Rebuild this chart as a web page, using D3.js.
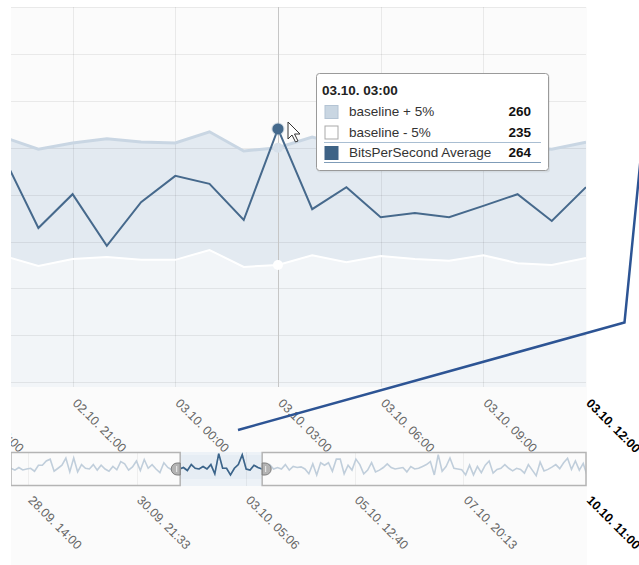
<!DOCTYPE html>
<html>
<head>
<meta charset="utf-8">
<script src="https://cdn.jsdelivr.net/npm/d3@7"></script>
<style>
  body { margin: 0; background: #fff; }
  svg { display: block; font-family: "Liberation Sans", Arial, sans-serif; }
</style>
</head>
<body>
<svg id="chart" width="639" height="565"></svg>
<script>
// main chart: hourly values
var hours = ["02.10.2013 19:00","02.10.2013 20:00","02.10.2013 21:00","02.10.2013 22:00","02.10.2013 23:00",
  "03.10.2013 00:00","03.10.2013 01:00","03.10.2013 02:00","03.10.2013 03:00","03.10.2013 04:00",
  "03.10.2013 05:00","03.10.2013 06:00","03.10.2013 07:00","03.10.2013 08:00","03.10.2013 09:00",
  "03.10.2013 10:00","03.10.2013 11:00","03.10.2013 12:00"];
var avgBps   = [257.8,242.9,250.1,239.1,248.4,254.0,252.3,244.6,264.0,246.9,251.6,245.2,246.1,245.2,247.6,250.1,244.4,251.6];
var basePlus = [262.2,259.7,261.0,261.9,261.2,261.0,263.4,259.3,260.0,262.3,260.4,261.7,261.0,260.6,261.9,260.2,259.7,261.2];
var baseMinus= [236.9,234.8,236.3,236.7,236.1,236.1,238.2,234.6,235.0,237.1,235.6,236.9,236.3,235.9,237.1,235.4,235.0,236.5];
var mainTicks = ["02.10.2013 18:00","02.10.2013 21:00","03.10.2013 00:00","03.10.2013 03:00","03.10.2013 06:00","03.10.2013 09:00","03.10.2013 12:00"];
var yTicks = [210,220,230,240,250,260,270,280,290];
var hoverTime = "03.10.2013 03:00";

// navigator: values every 2 hours from 28.09 05:20
var navStart = "28.09.2013 05:20";
var navValues = [248.8,246.8,249.6,247,248,248.8,245.6,252,252,256.6,258.5,245.6,248.8,252,259.7,244.9,259.7,244.9,252.7,248.8,248,252.7,246.8,252,
  248,245.6,250.7,247.2,255.9,253.5,246.8,250.3,256.6,246.4,258.1,248.8,252.7,248,244.1,254.7,249.6,247.2,248.8,248,
  249.6,246.4,252.7,248.8,248,250.7,248,252.7,242.9,264.4,248.8,248.8,241.7,248.8,252.7,263.2,248,246.8,252,249.6,248,
  249.6,252.7,248,249.6,248,252.7,246.8,250.7,249.6,250.3,248,242.9,253.5,241.7,254.7,252,254.7,245.6,258.5,258.5,242.9,252,246.8,258.5,252.7,242.9,246.8,254.7,244.9,246.8,249.6,253.5,
  249.6,248,248.8,249.6,244.9,250.7,248,248.8,250.7,252.7,255.9,241.7,263.2,245.6,250.7,259.7,248.8,248,247.2,241.7,252,241.7,250.7,244.1,252,
  256.6,243.6,247.6,248.8,252.7,248.8,246,248.8,247.6,243.6,252.7,246.8,240.9,255.4,246,247.6,250,252.7,248.4,254.7,259.4,247.6,256.6,246.8,253.9,240.9];
var navTicks = ["28.09.2013 14:00","30.09.2013 21:33","03.10.2013 05:06","05.10.2013 12:40","07.10.2013 20:13","10.10.2013 11:00"];
var navSelection = ["01.10.2013 19:40","03.10.2013 13:30"];

var parse = d3.timeParse("%d.%m.%Y %H:%M");
var fmt = d3.timeFormat("%d.%m. %H:%M");

var svg = d3.select("#chart");
var defs = svg.append("defs");
defs.append("clipPath").attr("id","leftClip").append("rect").attr("x",11).attr("y",0).attr("width",700).attr("height",565);
defs.append("clipPath").attr("id","plotClip").append("rect").attr("x",11).attr("y",7).attr("width",575).attr("height",380);

var root = svg.append("g").attr("clip-path","url(#leftClip)");

// chart background
root.append("rect").attr("x",11).attr("y",7).attr("width",576).attr("height",558).attr("fill","#fbfbfb");

var x = d3.scaleTime().domain([parse("02.10.2013 19:12"), parse("03.10.2013 12:00")]).range([11, 586]);
var y = d3.scaleLinear().domain([209, 290]).range([387, 7]);

var rows = hours.map(function(h, i){
  return {t: parse(h), avg: avgBps[i], up: basePlus[i], low: baseMinus[i]};
});

var plot = root.append("g").attr("clip-path","url(#plotClip)");

plot.append("path").datum(rows)
  .attr("fill","#e3eaf1")
  .attr("d", d3.area().x(function(d){return x(d.t);}).y0(387).y1(function(d){return y(d.up);}));
plot.append("path").datum(rows)
  .attr("fill","#f2f5f8")
  .attr("d", d3.area().x(function(d){return x(d.t);}).y0(387).y1(function(d){return y(d.low);}));

// grid
plot.selectAll(".hgrid").data(yTicks).enter().append("line")
  .attr("x1",11).attr("x2",586)
  .attr("y1",function(d){return Math.round(y(d))+0.5;}).attr("y2",function(d){return Math.round(y(d))+0.5;})
  .attr("stroke","#000").attr("stroke-opacity",0.07);
plot.selectAll(".vgrid").data(mainTicks.map(parse)).enter().append("line")
  .attr("y1",7).attr("y2",387)
  .attr("x1",function(d){return Math.round(x(d))+0.5;}).attr("x2",function(d){return Math.round(x(d))+0.5;})
  .attr("stroke","#000").attr("stroke-opacity",0.07);

// crosshair
var ht = parse(hoverTime);
plot.append("line")
  .attr("x1",Math.round(x(ht))+0.5).attr("x2",Math.round(x(ht))+0.5).attr("y1",7).attr("y2",387)
  .attr("stroke","#c6c6c6").attr("stroke-width",1);

plot.append("path").datum(rows)
  .attr("fill","none").attr("stroke","#fff").attr("stroke-width",2)
  .attr("d", d3.line().x(function(d){return x(d.t);}).y(function(d){return y(d.low);}));
plot.append("path").datum(rows)
  .attr("fill","none").attr("stroke","#c9d6e3").attr("stroke-width",3)
  .attr("d", d3.line().x(function(d){return x(d.t);}).y(function(d){return y(d.up);}));
plot.append("path").datum(rows)
  .attr("fill","none").attr("stroke","#46698c").attr("stroke-width",2)
  .attr("d", d3.line().x(function(d){return x(d.t);}).y(function(d){return y(d.avg);}));

var hi = hours.indexOf(hoverTime);
var hr = rows[hi];
plot.append("circle").attr("cx",x(hr.t)).attr("cy",y(hr.up)).attr("r",5).attr("fill","#d6e0ea");
plot.append("circle").attr("cx",x(hr.t)).attr("cy",y(hr.low)).attr("r",5).attr("fill","#fff");
plot.append("circle").attr("cx",x(hr.t)).attr("cy",y(hr.avg)).attr("r",6.5).attr("fill","#7f9ab3").attr("opacity",0.35);
plot.append("circle").attr("cx",x(hr.t)).attr("cy",y(hr.avg)).attr("r",5.5).attr("fill","#44698c");

// main x axis labels
var gx = root.append("g").attr("transform","translate(0,404)")
  .call(d3.axisBottom(x).tickValues(mainTicks.map(parse)).tickSize(0).tickFormat(fmt));
gx.attr("font-family", null).attr("font-size", null);
gx.select(".domain").remove();
gx.selectAll("text")
  .attr("x",0).attr("y",0).attr("dy",null)
  .attr("text-anchor","start")
  .attr("transform","translate(-1,0) rotate(45)")
  .attr("fill","#666").style("font-size","12.5px");
gx.selectAll(".tick text").filter(function(d,i,n){return i === n.length-1;})
  .attr("fill","#000").style("font-weight","bold");

// navigator
var nx = d3.scaleTime().domain([parse(navStart), parse("10.10.2013 11:00")]).range([11, 586.5]);
var ny = d3.scaleLinear().domain([232, 264]).range([484, 454]);
var n0 = parse(navStart);
var navRows = navValues.map(function(v, i){ return {t: d3.timeHour.offset(n0, 2*i), v: v}; });
var s0 = nx(parse(navSelection[0])), s1 = nx(parse(navSelection[1]));

defs.append("clipPath").attr("id","navClip").append("rect").attr("x",11).attr("y",452).attr("width",575).attr("height",34);
defs.append("clipPath").attr("id","selClip").append("rect").attr("x",s0).attr("y",452).attr("width",s1-s0).attr("height",34);

var nav = root.append("g").attr("clip-path","url(#navClip)");
nav.append("rect").attr("x",s0).attr("y",452).attr("width",s1-s0).attr("height",34).attr("fill","#edf2f7");
nav.append("rect").attr("x",s0).attr("y",455).attr("width",s1-s0).attr("height",24).attr("fill","#e6edf4");
nav.selectAll(".ngrid").data(navTicks.map(parse)).enter().append("line")
  .attr("x1",function(d){return Math.round(nx(d))+0.5;}).attr("x2",function(d){return Math.round(nx(d))+0.5;})
  .attr("y1",452).attr("y2",486).attr("stroke","#000").attr("stroke-opacity",0.05);

var navLine = d3.line().x(function(d){return nx(d.t);}).y(function(d){return ny(d.v);});
nav.append("path").datum(navRows).attr("fill","none").attr("stroke","#c0cedb").attr("stroke-width",1.6).attr("d",navLine);
nav.append("path").datum(navRows).attr("clip-path","url(#selClip)")
  .attr("fill","none").attr("stroke","#3b648a").attr("stroke-width",1.6).attr("d",navLine);

// outline of unselected parts
root.append("rect").attr("x",11).attr("y",452.5).attr("width",s0-11).attr("height",33)
  .attr("fill","none").attr("stroke","#b4b4b4").attr("stroke-width",1.5);
root.append("rect").attr("x",s1).attr("y",452.5).attr("width",586-s1).attr("height",33)
  .attr("fill","none").attr("stroke","#b4b4b4").attr("stroke-width",1.5);

// handles
[[s0,-1],[s1,1]].forEach(function(h){
  var hx = h[0], dir = h[1];
  var p = d3.path();
  p.moveTo(hx, 463);
  p.lineTo(hx + dir*3, 463);
  p.arc(hx + dir*3, 469, 6, -Math.PI/2, Math.PI/2, dir < 0);
  p.lineTo(hx, 475);
  p.closePath();
  root.append("path").attr("d", p.toString()).attr("fill","#b3b3b3").attr("stroke","#7d7d7d").attr("stroke-width",1);
  root.append("line").attr("x1",hx+dir*3.5).attr("x2",hx+dir*3.5).attr("y1",466).attr("y2",472)
    .attr("stroke","#eee").attr("stroke-width",1);
});

// navigator axis labels
var ngx = root.append("g").attr("transform","translate(0,501)")
  .call(d3.axisBottom(nx).tickValues(navTicks.map(parse)).tickSize(0).tickFormat(fmt));
ngx.attr("font-family", null).attr("font-size", null);
ngx.select(".domain").remove();
ngx.selectAll("text")
  .attr("x",0).attr("y",0).attr("dy",null)
  .attr("text-anchor","start")
  .attr("transform","translate(-1,0) rotate(45)")
  .attr("fill","#666").style("font-size","12.5px");
ngx.selectAll(".tick text").filter(function(d,i,n){return i === n.length-1;})
  .attr("fill","#000").style("font-weight","bold");

// callout line
svg.append("path").attr("d","M238,430L624.5,322.5L641.5,150")
  .attr("fill","none").attr("stroke","#2d5494").attr("stroke-width",2.5).attr("stroke-linejoin","miter");

// tooltip
var tip = svg.append("g").attr("transform","translate(316,73)");
tip.append("rect").attr("x",1).attr("y",1.5).attr("width",233).attr("height",98).attr("rx",3)
  .attr("fill","#000").attr("opacity",0.06);
tip.append("rect").attr("x",0.5).attr("y",0.5).attr("width",232).attr("height",97).attr("rx",3)
  .attr("fill","#fff").attr("stroke","#9a9a9a").attr("stroke-width",1);
tip.append("text").attr("x",6).attr("y",22).style("font-size","13.5px").style("font-weight","bold")
  .attr("fill","#222").text(fmt(hr.t));

var tipRows = [
  {name: "baseline + 5%", value: hr.up, fill: "#c9d6e2", stroke: "#b4c4d4"},
  {name: "baseline - 5%", value: hr.low, fill: "#fff", stroke: "#a9a9a9"},
  {name: "BitsPerSecond Average", value: hr.avg, fill: "#3e6386", stroke: "#3e6386"}
];
var tr = tip.selectAll(".row").data(tipRows).enter().append("g")
  .attr("transform", function(d,i){ return "translate(0," + (32 + i*20.5) + ")"; });
tr.append("rect").attr("x",9).attr("y",0.5).attr("width",13).attr("height",13)
  .attr("fill",function(d){return d.fill;}).attr("stroke",function(d){return d.stroke;});
tr.append("text").attr("x",33).attr("y",11).style("font-size","13.5px").attr("fill","#333")
  .text(function(d){return d.name;});
tr.append("text").attr("x",215).attr("y",11).attr("text-anchor","end").style("font-size","13.5px")
  .style("font-weight","bold").attr("fill","#111")
  .text(function(d){return d3.format(".0f")(d.value);});
tip.append("line").attr("x1",8).attr("x2",225).attr("y1",69.5).attr("y2",69.5).attr("stroke","#a9bed2");
tip.append("line").attr("x1",8).attr("x2",225).attr("y1",89.5).attr("y2",89.5).attr("stroke","#7f9cb8");

// mouse pointer
svg.append("path")
  .attr("d","M288,122L288,139L292,135L295.5,142L298,141L294.5,134L300,134Z")
  .attr("fill","#fff").attr("stroke","#333").attr("stroke-width",1).attr("stroke-linejoin","round");
</script>
</body>
</html>
